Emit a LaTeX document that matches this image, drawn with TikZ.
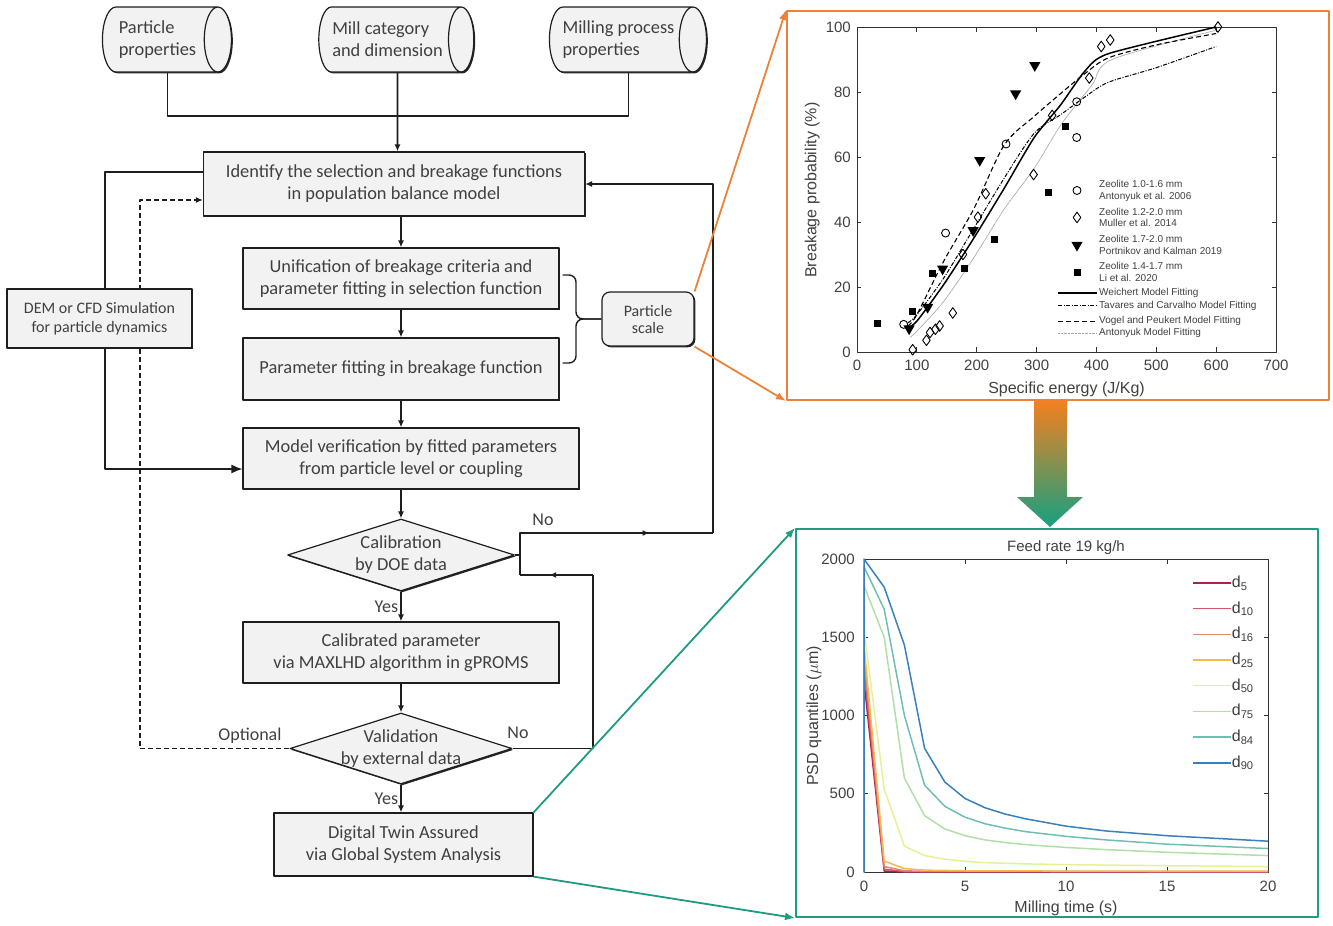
\documentclass[tikz,border=0pt]{standalone}
\usepackage{fontspec}
\setmainfont{Carlito}
\newfontfamily\plotfont{Liberation Sans}
\usetikzlibrary{arrows.meta,shapes,shadows,calc,decorations.markings,positioning}

\definecolor{boxfill}{RGB}{242,242,242}
\definecolor{boxline}{RGB}{30,30,30}
\definecolor{txtgray}{RGB}{64,64,64}
\definecolor{zoomorange}{RGB}{236,130,56}
\definecolor{zoomteal}{RGB}{30,155,128}
\definecolor{arrowtop}{RGB}{244,128,30}
\definecolor{arrowbot}{RGB}{22,160,130}
\definecolor{axgray}{RGB}{50,50,50}
\definecolor{dfive}{RGB}{172,32,78}
\definecolor{dten}{RGB}{214,84,106}
\definecolor{dsixteen}{RGB}{226,134,112}
\definecolor{dtwentyfive}{RGB}{244,186,76}
\definecolor{dfifty}{RGB}{232,240,150}
\definecolor{dseventyfive}{RGB}{178,222,168}
\definecolor{deightyfour}{RGB}{112,190,178}
\definecolor{dninety}{RGB}{58,128,186}

\newcommand{\zw}[1]{\makebox[0pt]{#1}}

\tikzstyle{proc}    =[rectangle, draw=boxline, fill=boxfill, line width=1.2pt,
                      text=txtgray, align=center, inner sep=2pt,
                      font=\fontsize{18.4}{22}\selectfont,
                      drop shadow={shadow xshift=1.4pt, shadow yshift=-1.4pt,
                                   fill=black, opacity=0.85}]
\tikzstyle{smallproc}=[proc, font=\fontsize{16}{18.5}\selectfont]
\tikzstyle{decide}  =[proc, diamond, aspect=3, inner sep=0pt]
\tikzstyle{store}   =[proc, cylinder, shape aspect=0.65, align=left,
                      minimum width=65pt]
\tikzstyle{scalebox}=[proc, rounded corners=8pt, font=\fontsize{16}{17}\selectfont]
\tikzstyle{flow}    =[draw=boxline, line width=1.6pt,
                      -{Latex[length=7pt, width=6pt]}]
\tikzstyle{wire}    =[draw=boxline, line width=1.6pt]
\tikzstyle{branch}  =[text=txtgray, font=\fontsize{18}{20}\selectfont, inner sep=2pt]
\tikzstyle{zoomline}=[line width=1.8pt, -{Latex[length=10pt, width=8pt]}]
\tikzstyle{ticklab} =[text=txtgray, font=\plotfont\fontsize{15}{18}\selectfont,
                      inner sep=0pt]
\tikzstyle{axlab}   =[text=txtgray, font=\plotfont\fontsize{16}{19}\selectfont,
                      inner sep=0pt]
\tikzstyle{legtext} =[text=txtgray, font=\plotfont\fontsize{10}{12}\selectfont,
                      anchor=west, inner sep=0pt]
\tikzstyle{legd}    =[text=txtgray, font=\plotfont\fontsize{16}{19}\selectfont,
                      anchor=west, inner sep=0pt]
\tikzstyle{mkcirc}  =[circle, draw=black, line width=0.9pt, minimum size=8pt,
                      inner sep=0pt]
\tikzstyle{mkdiam}  =[diamond, draw=black, line width=0.9pt, minimum width=8pt,
                      minimum height=11pt, inner sep=0pt]
\tikzstyle{mktri}   =[regular polygon, regular polygon sides=3,
                      shape border rotate=180, fill=black, minimum size=13pt,
                      inner sep=0pt]
\tikzstyle{mksq}    =[rectangle, fill=black, minimum size=7pt, inner sep=0pt]
\tikzset{midarrow/.style={postaction={decorate}, decoration={markings,
           mark=at position #1 with {\arrow{Latex[length=7pt, width=6pt]}}}}}

\begin{document}
\begin{tikzpicture}[x=1pt, y=-1pt, line join=round]
\useasboundingbox (0,0) rectangle (1333,926);

\node[store, minimum height=129pt] (pp) at (157.5,39.5) {Particle\\properties};
\node[store, minimum height=155pt] (mc) at (387.5,39.5) {Mill category\\and dimension};
\node[store, minimum height=157pt] (mp) at (618.5,39.5) {Milling process\\properties};

\node[proc, minimum width=381pt, minimum height=64pt] (id) at (394,184)
    {Identify the selection and breakage functions\\in population balance model};
\node[proc, minimum width=316pt, minimum height=61pt] (unif) at (401,278.5)
    {Unification of breakage criteria and\\parameter fitting in selection function};
\node[proc, minimum width=316pt, minimum height=62pt] (pf) at (401,369)
    {Parameter fitting in breakage function};
\node[proc, minimum width=336pt, minimum height=61pt] (mv) at (411,458.5)
    {Model verification by fitted parameters\\from particle level or coupling};
\node[decide, minimum width=227pt, minimum height=72pt] (cal) at (401,555)
    {\zw{Calibration}\\\zw{by DOE data}};
\node[proc, minimum width=316pt, minimum height=61pt] (calp) at (401,652.5)
    {Calibrated parameter\\via MAXLHD algorithm in gPROMS};
\node[decide, minimum width=222pt, minimum height=71pt] (val) at (401,748.5)
    {\zw{Validation}\\\zw{by external data}};
\node[proc, minimum width=259pt, minimum height=63pt] (dt) at (403.5,844.5)
    {Digital Twin Assured\\via Global System Analysis};
\node[scalebox, minimum width=92pt, minimum height=54pt] (ps) at (648,319)
    {Particle\\scale};

\coordinate (join) at (397.5,116);
\draw[wire] ([xshift=10pt]pp.south) |- (join) -| ([xshift=10pt]mp.south);
\draw[flow] ([xshift=10pt]mc.south) -- (join |- id.north);
\draw[flow] (unif.north |- id.south) -- (unif.north);
\draw[flow] (unif) -- (pf);
\draw[flow] (pf.south) -- (pf.south |- mv.north);
\draw[flow] (cal.north |- mv.south) -- (cal.north);
\draw[flow] (cal.south) -- (calp.north) node[branch, midway, left] (yescal) {Yes};
\draw[flow] (calp.south) -- (val.north);
\draw[flow] (val.south) -- (val.south |- dt.north) node[branch, midway, left] (yesval) {Yes};

\coordinate (da) at (140,200);
\draw[flow, dash pattern=on 5pt off 3pt, line width=1.4pt] (val.west) -- (val.west -| da)
    -- (da) -- (da -| id.west);
\node[branch] (opt) at (250,736) {Optional};

\node[smallproc, minimum width=185pt, minimum height=59pt] (dem) at (99.5,318.5)
    {DEM or CFD Simulation\\for particle dynamics};
\coordinate (sa) at (105,172);
\coordinate (sb) at (105,469);
\draw[wire, line width=1.3pt] (sa -| id.west) -- (sa) -- (sa |- dem.north);
\draw[flow, line width=1.3pt, -{Latex[length=11pt, width=9pt]}] (sa |- dem.south)
    -- (sb) -- (sb -| mv.west);

\coordinate (ra) at (520,533);
\coordinate (rb) at (520,575);
\coordinate (rx) at (593,575);
\coordinate (ry) at (713,533);
\draw[wire] (val.east) -| (rx);
\draw[wire, midarrow=0.6] (rx) -- (rb);
\draw[wire] (cal.east) -- (cal.east -| rb);
\draw[wire, midarrow=0.73] (rb) -- (ra) -- (ry);
\draw[flow] (ry) -- (ry |- id.east) -- (id.east);
\node[branch] (nocal) at (543,520) {No};
\node[branch] (noval) at (518,733) {No};

\coordinate (bt) at (576,275);
\coordinate (bm) at (576,319);
\coordinate (bb) at (576,363);
\draw[wire, line width=1.4pt, rounded corners=7pt] ([xshift=3pt]unif.east |- bt) -- (bt)
    -- (bm) -- (ps.west);
\draw[wire, line width=1.4pt, rounded corners=7pt] ([xshift=3pt]pf.east |- bb) -- (bb)
    -- (bm) -- (ps.west);

\shade[top color=arrowtop, bottom color=arrowbot] (1034,400) -- (1067,400) -- (1067,497)
    -- (1083,497) -- (1050,527) -- (1017,497) -- (1034,497) -- cycle;
\node[draw=zoomorange, line width=2pt, minimum width=542pt, minimum height=389pt,
      inner sep=0pt] (topframe) at (1058,205.5) {};
\node[draw=zoomteal, line width=2pt, minimum width=522pt, minimum height=388pt,
      inner sep=0pt] (botframe) at (1057,723) {};
\draw[zoomline, draw=zoomorange] (ps.north east) -- (topframe.north west);
\draw[zoomline, draw=zoomorange] (ps.south east) -- (topframe.south west);
\draw[zoomline, draw=zoomteal] (dt.north east) -- (botframe.north west);
\draw[zoomline, draw=zoomteal] (dt.south east) -- (botframe.south west);

% breakage probability
\begin{scope}[shift={(857,352)}, x=0.5986pt, y=3.25pt]
\draw[axgray, line width=0.8pt] (0,0) rectangle (700,100);
\foreach \xv in {100,200,...,600}
  {\draw[axgray, line width=0.8pt] (\xv,0) -- (\xv,1.4) (\xv,100) -- (\xv,98.6);}
\foreach \yv in {20,40,60,80}
  {\draw[axgray, line width=0.8pt] (0,\yv) -- (7,\yv) (700,\yv) -- (693,\yv);}
\foreach \xv [count=\k] in {0,100,...,700}
  \node[ticklab, anchor=north] (ex\k) at (\xv,-2.4) {\xv};
\foreach \yv [count=\k] in {0,20,...,100}
  \node[ticklab, anchor=east] (ey\k) at (-10,\yv) {\yv};
\node[axlab] (exlab) at (350,-11.6) {Specific energy (J/Kg)};
\node[axlab, rotate=90] (eylab) at (-75,49.8) {Breakage probability (\%)};

\draw[gray!70, line width=0.7pt, dash pattern=on 1pt off 0.4pt] plot[smooth] coordinates
  {(88,4.5) (100,6.4) (145,15.6) (195,29) (246,44) (296,56.5) (341,70) (392,82)
  (426,90) (600,99)};
\draw[black, line width=1pt, dash pattern=on 4pt off 1.5pt on 1pt off 1.5pt] plot[smooth]
  coordinates {(85,9) (100,11.5) (145,22.8) (195,38) (246,53.5) (296,67.3) (340,73)
  (381,78.5) (420,83) (500,87.5) (600,94)};
\draw[black, line width=1.1pt, dash pattern=on 5pt off 3pt] plot[smooth] coordinates
  {(85,8) (100,11.5) (145,28) (195,44) (246,63.7) (296,72.5) (340,79.5) (381,85.7)
  (420,90.5) (500,94.5) (600,98)};
\draw[black, line width=1.5pt] plot[smooth, tension=0.4] coordinates
  {(82,7) (100,9.5) (145,20.8) (195,35) (246,50.4) (296,66) (340,76) (381,86.5)
  (420,91.8) (600,100)};

\foreach \px/\py [count=\k] in {78/8.5,148/36.6,249/64,367/66,367/77}
  \node[mkcirc] (oa\k) at (\px,\py) {};
\foreach \px/\py [count=\k] in {93/0.7,116/3.6,122/6,131/7,138/8,160/12,177/30,
    202/41.5,215/48.7,295/54.6,326/72.8,388/84.3,408/94,423/96,603/100}
  \node[mkdiam] (om\k) at (\px,\py) {};
\foreach \px/\py [count=\k] in {87/7.2,118/13.8,143/25.6,194/37.4,205/59,265/79.5,297/88.2}
  \node[mktri] (op\k) at (\px,\py) {};
\foreach \px/\py [count=\k] in {34/8.7,93/12.6,126/24.3,179/25.8,230/34.6,320/49,348/69.4}
  \node[mksq] (ol\k) at (\px,\py) {};

\node[mkcirc] (lga) at (367.5,49.7) {};
\node[mkdiam] (lgb) at (367.5,41.4) {};
\node[mktri] (lgc) at (367.5,32.9) {};
\node[mksq] (lgd) at (367.5,24.6) {};
\node[legtext] (lta) at (404.3,51.7) {Zeolite 1.0-1.6 mm};
\node[legtext] (ltb) at (404.3,47.7) {Antonyuk et al. 2006};
\node[legtext] (ltc) at (404.3,43.1) {Zeolite 1.2-2.0 mm};
\node[legtext] (ltd) at (404.3,39.7) {Muller et al. 2014};
\node[legtext] (lte) at (404.3,34.8) {Zeolite 1.7-2.0 mm};
\node[legtext] (ltf) at (404.3,31.1) {Portnikov and Kalman 2019};
\node[legtext] (ltg) at (404.3,26.5) {Zeolite 1.4-1.7 mm};
\node[legtext] (lth) at (404.3,22.8) {Li et al. 2020};
\node[legtext] (lti) at (404.3,18.2) {Weichert Model Fitting};
\node[legtext] (ltj) at (404.3,14.2) {Tavares and Carvalho Model Fitting};
\node[legtext] (ltk) at (404.3,9.5) {Vogel and Peukert Model Fitting};
\node[legtext] (ltl) at (404.3,5.8) {Antonyuk Model Fitting};
\draw[black, line width=1.5pt] (335.8,18.2) -- ([xshift=-2pt]lti.west);
\draw[black, line width=1pt, dash pattern=on 4pt off 1.5pt on 1pt off 1.5pt]
  (335.8,14.2) -- ([xshift=-2pt]ltj.west);
\draw[black, line width=1.1pt, dash pattern=on 5pt off 3pt] (335.8,9.5)
  -- ([xshift=-2pt]ltk.west);
\draw[gray!70, line width=0.7pt, dash pattern=on 1pt off 0.4pt] (335.8,5.8)
  -- ([xshift=-2pt]ltl.west);
\end{scope}

% milling kinetics
\begin{scope}[shift={(864,872)}, x=20.2pt, y=0.1565pt]
\draw[axgray, line width=0.8pt] (0,0) rectangle (20,2000);
\foreach \xv in {5,10,15}
  {\draw[axgray, line width=0.8pt] (\xv,0) -- (\xv,29) (\xv,2000) -- (\xv,1971);}
\foreach \yv in {500,1000,1500}
  {\draw[axgray, line width=0.8pt] (0,\yv) -- (0.21,\yv) (20,\yv) -- (19.79,\yv);}
\foreach \xv [count=\k] in {0,5,...,20}
  \node[ticklab, anchor=north] (tx\k) at (\xv,-55) {\xv};
\foreach \yv [count=\k] in {0,500,...,2000}
  \node[ticklab, anchor=east] (ty\k) at (-0.45,\yv) {\yv};
\node[ticklab] (ttl) at (10,2070) {Feed rate 19 kg/h};
\node[axlab] (txlab) at (10,-230) {Milling time (s)};
\node[axlab, rotate=90] (tylab) at (-2.48,997) {PSD quantiles ($\mu$m)};

\draw[dfive, line width=1.5pt] plot coordinates {(0,0) (0,1220) (1,6) (2,1) (20,0)};
\draw[dten, line width=1.5pt] plot coordinates {(0,0) (0,1300) (1,18) (2,3) (20,1)};
\draw[dsixteen, line width=1.5pt] plot coordinates {(0,0) (0,1380) (1,35) (2,8) (3,4) (20,2)};
\draw[dtwentyfive, line width=1.5pt] plot coordinates
  {(0,0) (0,1450) (1,70) (2,22) (3,12) (5,8) (10,6) (20,5)};
\draw[dfifty, line width=1.5pt] plot coordinates
  {(0,0) (0,1550) (1,530) (2,165) (3,105) (4,82) (5,68) (6,60) (8,52) (10,47) (15,40) (20,35)};
\draw[dseventyfive, line width=1.5pt] plot coordinates
  {(0,0) (0,1830) (1,1500) (2,600) (3,360) (4,275) (5,232) (6,205) (7,188) (8,175)
   (10,157) (12,143) (15,126) (20,105)};
\draw[deightyfour, line width=1.5pt] plot coordinates
  {(0,0) (0,1950) (1,1680) (2,1000) (3,555) (4,420) (5,350) (6,308) (7,280) (8,258)
   (10,228) (12,205) (15,178) (20,150)};
\draw[dninety, line width=1.5pt] plot coordinates
  {(0,0) (0,2000) (1,1820) (2,1450) (3,790) (4,575) (5,470) (6,410) (7,370) (8,340)
   (10,293) (12,262) (15,232) (20,197)};

\foreach \col/\lab [count=\k] in {dfive/5,dten/10,dsixteen/16,dtwentyfive/25,
    dfifty/50,dseventyfive/75,deightyfour/84,dninety/90}
  {\pgfmathsetmacro\ly{1847-164.2*(\k-1)}
   \node[legd] (lg\k) at (18.2,\ly) {d\textsubscript{\lab}};
   \draw[\col, line width=1.5pt] (16.29,\ly) -- ([xshift=-1pt]lg\k.west);}
\end{scope}
\end{tikzpicture}
\end{document}
